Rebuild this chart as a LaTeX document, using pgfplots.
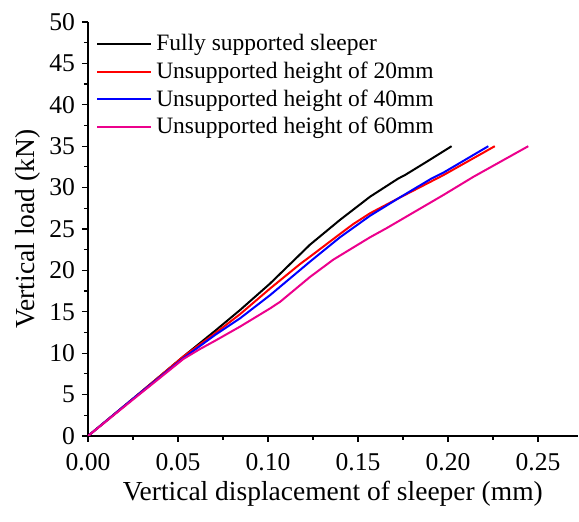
\documentclass[border=0pt]{standalone}
\usepackage{fontspec}
\setmainfont{Liberation Serif}
\usepackage{pgfplots}
\pgfplotsset{compat=1.18}

% load-displacement curves of the sleeper
\pgfplotstableread{
x y
0 0
0.025 4.5
0.053 9.6
0.0706 12.7
0.0844 15.2
0.1011 18.4
0.1233 23.1
0.14 26.1
0.1567 28.9
0.1724 31.1
0.176 31.5
0.188 33.1
0.202 35.0
}\full
\pgfplotstableread{
x y
0 0
0.025 4.5
0.053 9.6
0.0706 12.4
0.0844 14.7
0.1011 17.8
0.118 20.8
0.1233 21.65
0.14 24.4
0.1474 25.6
0.1567 26.9
0.1724 28.7
0.1974 31.5
0.226 35.0
}\twenty
\pgfplotstableread{
x y
0 0
0.025 4.5
0.053 9.4
0.0706 12.2
0.0844 14.2
0.1011 17.0
0.1233 21.05
0.14 24.0
0.1567 26.6
0.1724 28.7
0.1909 31.1
0.1974 31.8
0.2224 35.0
}\forty
\pgfplotstableread{
x y
0 0
0.025 4.4
0.053 9.3
0.0622 10.5
0.0706 11.5
0.0844 13.2
0.1011 15.4
0.1067 16.2
0.1233 19.2
0.1363 21.3
0.1567 24.0
0.1659 25.1
0.1974 29.1
0.2141 31.3
0.2446 35.0
}\sixty

\begin{document}
\begin{tikzpicture}
\useasboundingbox (-44pt,-43pt) rectangle (245.5pt,218pt);
\begin{axis}[
  scale only axis,
  width=244.8pt, height=207pt,
  xmin=0, xmax=0.272, ymin=0, ymax=50,
  axis x line*=bottom, axis y line*=left,
  axis line style={line width=0.75pt},
  xtick={0,0.05,0.10,0.15,0.20,0.25},
  ytick={0,5,...,50},
  minor x tick num=1, minor y tick num=1,
  tick align=outside,
  major tick length=3pt, minor tick length=2pt,
  every tick/.style={black, line width=0.6pt},
  xticklabel style={yshift=-2pt, /pgf/number format/.cd, fixed, fixed zerofill, precision=2},
  /pgf/number format/assume math mode=true,
  tick label style={font=\fontsize{12.8}{14}\selectfont},
  xlabel={Vertical displacement of sleeper (mm)},
  ylabel={Vertical load (kN)},
  label style={font=\fontsize{13.75}{16}\selectfont},
  x label style={at={(axis description cs:0.5,0)}, anchor=center, yshift=-29pt},
  y label style={at={(axis description cs:-0.122,0.5)}, anchor=center},
  legend style={draw=none, fill=none, at={(0.012,0.985)}, anchor=north west,
    font=\fontsize{11.75}{14}\selectfont, row sep=0pt, inner sep=1pt},
  legend cell align=left,
  legend image code/.code={\draw[#1] (0pt,0pt) -- (27pt,0pt);},
  every axis plot/.append style={line width=1pt},
]
\addplot[black] table {\full};
\addplot[red] table {\twenty};
\addplot[blue] table {\forty};
\addplot[magenta] table {\sixty};
\legend{Fully supported sleeper, Unsupported height of 20mm, Unsupported height of 40mm, Unsupported height of 60mm}
\end{axis}
\end{tikzpicture}
\end{document}
